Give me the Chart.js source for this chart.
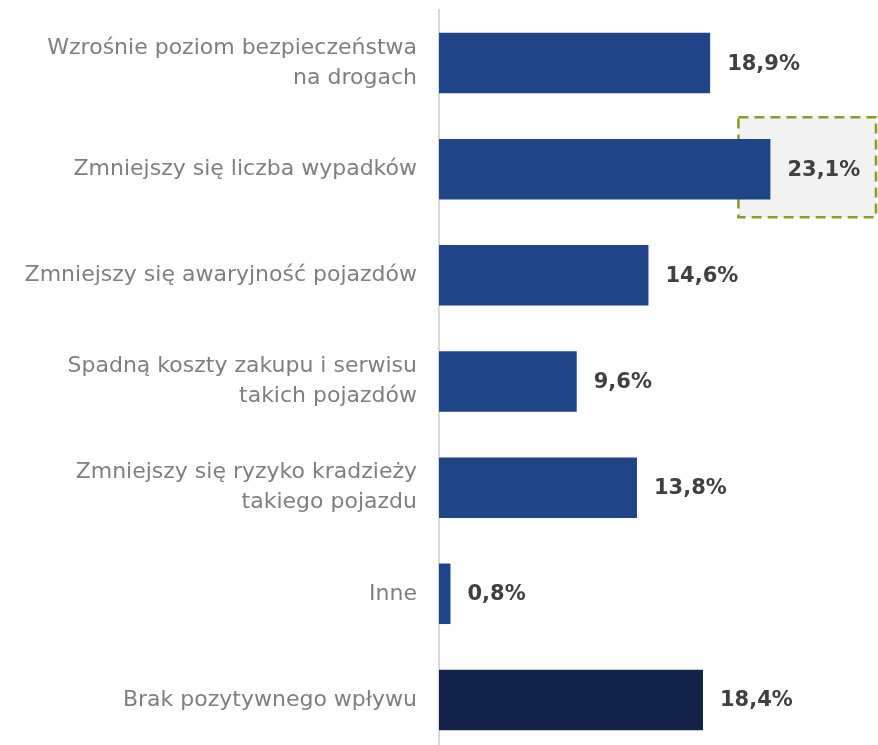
<!DOCTYPE html>
<html>
<head>
<meta charset="utf-8">
<script src="https://cdn.jsdelivr.net/npm/chart.js@4"></script>
<style>
  html, body { margin: 0; padding: 0; background: #fff; overflow: hidden; }
  #wrap { width: 878px; height: 753px; }
</style>
</head>
<body>
<div id="wrap"><canvas id="effectsChart" width="878" height="753"></canvas></div>
<script>
const categories = [
    ['Wzrośnie poziom bezpieczeństwa', 'na drogach'],
    'Zmniejszy się liczba wypadków',
    'Zmniejszy się awaryjność pojazdów',
    ['Spadną koszty zakupu i serwisu', 'takich pojazdów'],
    ['Zmniejszy się ryzyko kradzieży', 'takiego pojazdu'],
    'Inne',
    'Brak pozytywnego wpływu',
];
const shares = [18.9, 23.1, 14.6, 9.6, 13.8, 0.8, 18.4];
const highlightIndex = 1;

const barBlue = '#1f4488';
const barNavy = '#13234a';
const labelGray = '#7f7f7f';
const valueGray = '#404040';

const fmt = v => v.toFixed(1).replace('.', ',') + '%';

// highlight box behind the largest value + value labels
const valueLabels = {
    id: 'valueLabels',
    beforeDatasetsDraw(chart) {
        const { ctx, chartArea } = chart;
        const bar = chart.getDatasetMeta(0).data[highlightIndex];
        if (!bar) return;
        const left = bar.x - 32;
        const right = chartArea.right - 2;
        const top = bar.y - 52;
        const bottom = bar.y + 48;
        ctx.save();
        ctx.fillStyle = '#f2f2f2';
        ctx.fillRect(left, top, right - left, bottom - top);
        ctx.strokeStyle = '#8f9c1f';
        ctx.lineWidth = 2.5;
        ctx.setLineDash([10, 6]);
        ctx.strokeRect(left, top, right - left, bottom - top);
        ctx.restore();
    },
    afterDatasetsDraw(chart) {
        const { ctx } = chart;
        ctx.save();
        ctx.font = 'bold 21px "DejaVu Sans"';
        ctx.fillStyle = valueGray;
        ctx.textBaseline = 'middle';
        chart.getDatasetMeta(0).data.forEach((bar, i) => {
            ctx.fillText(fmt(shares[i]), bar.x + 17, bar.y + 1);
        });
        ctx.restore();
    },
};

new Chart(document.getElementById('effectsChart'), {
    type: 'bar',
    data: {
        labels: categories,
        datasets: [{
            data: shares,
            backgroundColor: shares.map((v, i) => i === shares.length - 1 ? barNavy : barBlue),
            borderWidth: 0,
            barPercentage: 0.57,
            categoryPercentage: 1,
        }],
    },
    options: {
        indexAxis: 'y',
        responsive: false,
        animation: false,
        layout: { padding: { top: 10, bottom: 0, left: 0, right: 0 } },
        scales: {
            x: {
                display: false,
                min: 0,
                max: 30.6,
                grid: { display: false },
            },
            y: {
                afterFit(scale) {
                    scale.width = 439;
                    scale.paddingTop = 0;
                    scale.paddingBottom = 0;
                },
                grid: { display: false, drawTicks: false },
                border: { display: true, color: '#d9d9d9', width: 2 },
                ticks: {
                    color: labelGray,
                    padding: 22,
                    font: { family: '"DejaVu Sans"', size: 22, lineHeight: 1.36 },
                },
            },
        },
        plugins: {
            legend: { display: false },
            tooltip: { enabled: false },
        },
    },
    plugins: [valueLabels],
});
</script>
</body>
</html>
